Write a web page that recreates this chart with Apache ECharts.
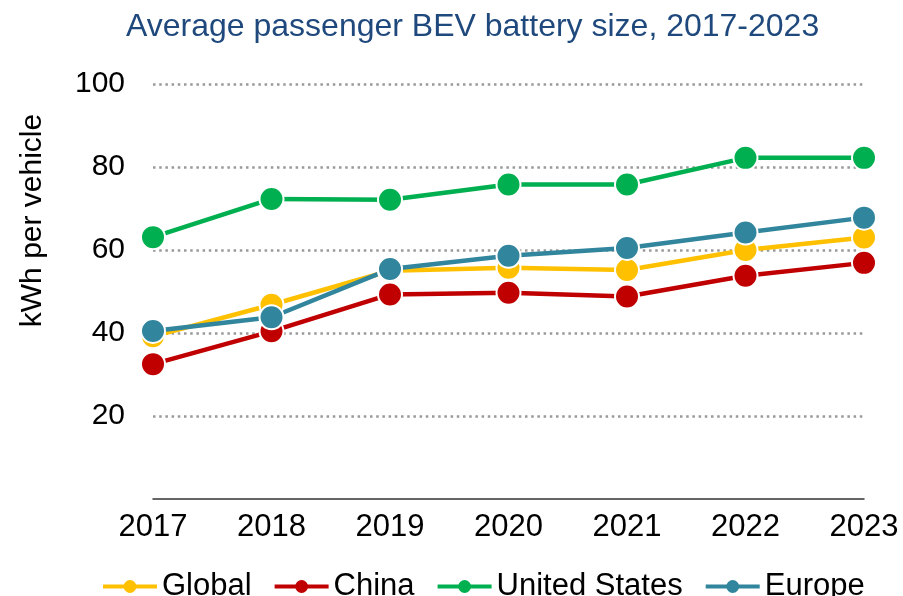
<!DOCTYPE html>
<html>
<head>
<meta charset="utf-8">
<script src="https://cdn.jsdelivr.net/npm/echarts@6/dist/echarts.min.js"></script>
<style>
  html, body { margin: 0; padding: 0; background: #fff; }
  #chart { width: 903px; height: 596px; }
</style>
</head>
<body>
<div id="chart"></div>
<script>
var years = ['2017', '2018', '2019', '2020', '2021', '2022', '2023'];
var globalData = [39.2, 46.8, 55.0, 55.7, 55.2, 60.0, 63.0];
var chinaData = [32.5, 40.4, 49.3, 49.7, 48.8, 53.8, 56.9];
var usData = [63.1, 72.3, 72.1, 75.8, 75.8, 82.2, 82.2];
var europeData = [40.5, 43.8, 55.4, 58.6, 60.5, 64.2, 67.8];

var font = 'Liberation Sans, Arial, sans-serif';

function makeSeries(name, color, data) {
    return {
        name: name,
        type: 'line',
        data: data,
        symbol: 'circle',
        symbolSize: 24,
        lineStyle: { color: color, width: 4.5 },
        itemStyle: { color: color, borderColor: '#fff', borderWidth: 2 },
        emphasis: { disabled: true },
        z: 2
    };
}

var myChart = echarts.init(document.getElementById('chart'));
var option = {
    animation: false,
    title: {
        text: 'Average passenger BEV battery size, 2017-2023',
        left: 126,
        top: 11,
        padding: 0,
        textStyle: {
            color: '#1F497D',
            fontFamily: font,
            fontWeight: 'normal',
            fontSize: 32
        }
    },
    legend: {
        left: 96,
        top: 566,
        itemWidth: 54,
        itemHeight: 16,
        itemGap: 21,
        itemStyle: { borderWidth: 0 },
        lineStyle: { width: 4 },
        textStyle: { color: '#000', fontFamily: font, fontSize: 31 },
        data: ['Global', 'China', 'United States', 'Europe']
    },
    grid: { left: 153, right: 39, top: 84, bottom: 97 },
    xAxis: {
        type: 'category',
        data: years,
        boundaryGap: false,
        axisLine: { lineStyle: { color: '#333', width: 1.5 } },
        axisTick: { show: false },
        axisLabel: { color: '#000', fontFamily: font, fontSize: 31, margin: 13 }
    },
    yAxis: {
        type: 'value',
        min: 0,
        max: 100,
        interval: 20,
        name: 'kWh per vehicle',
        nameLocation: 'middle',
        nameRotate: 90,
        nameGap: 105,
        nameTextStyle: {
            color: '#000',
            fontFamily: font,
            fontSize: 30,
            padding: [0, 0, 0, 142]
        },
        axisLine: { show: false },
        axisTick: { show: false },
        axisLabel: {
            color: '#000',
            fontFamily: font,
            fontSize: 30,
            margin: 28,
            formatter: function (v) { return v === 0 ? '' : v; }
        },
        splitLine: {
            show: true,
            showMinLine: false,
            lineStyle: { color: '#999', width: 2.5, type: [2.5, 3.7] }
        }
    },
    series: [
        makeSeries('Global', '#FFC000', globalData),
        makeSeries('China', '#C00000', chinaData),
        makeSeries('United States', '#00B050', usData),
        makeSeries('Europe', '#31859C', europeData)
    ]
};
myChart.setOption(option);
</script>
</body>
</html>
